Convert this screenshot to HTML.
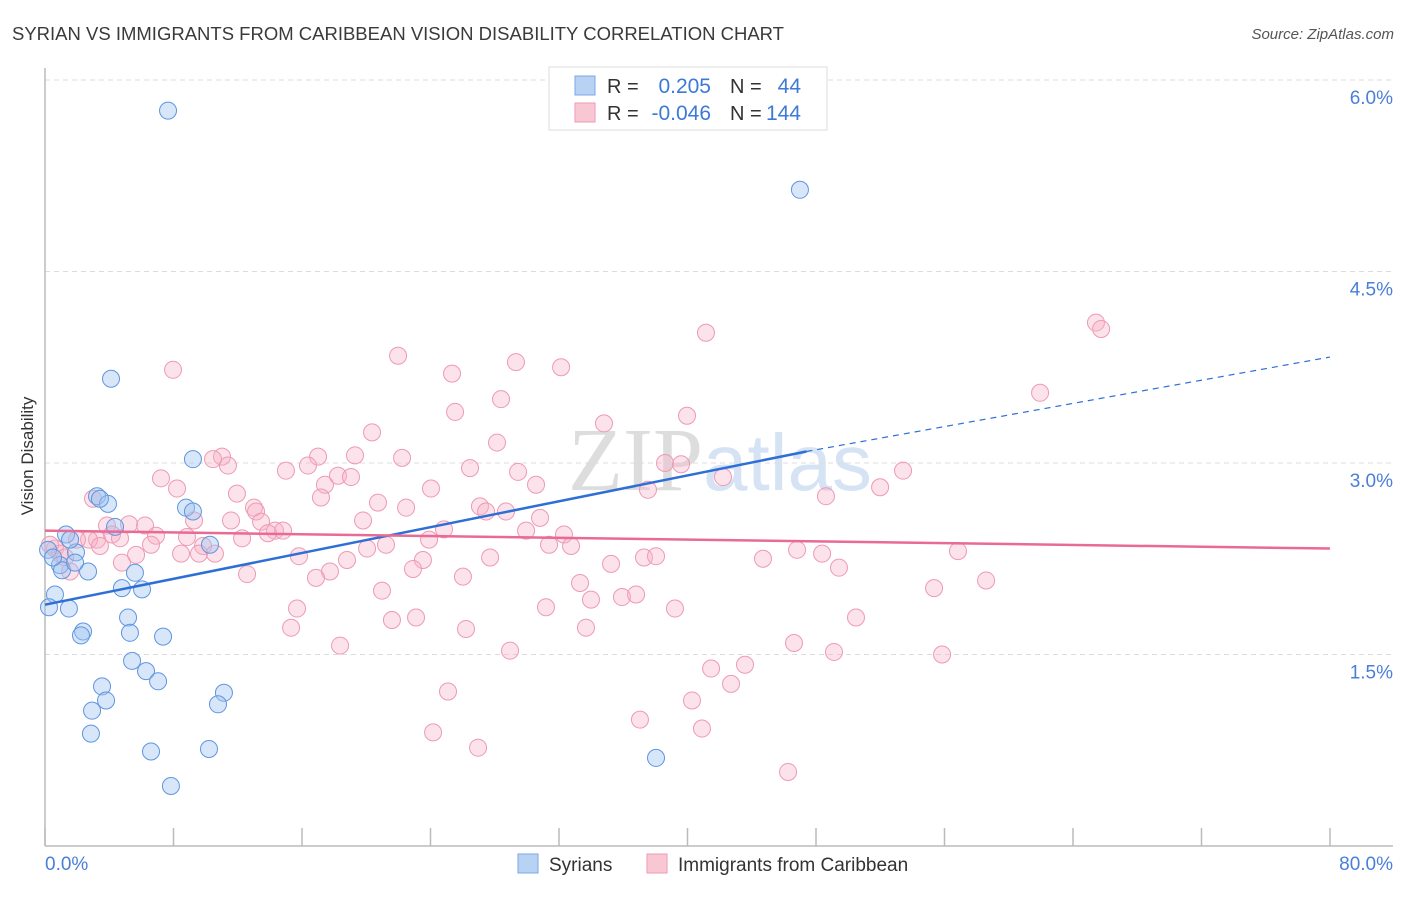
<!DOCTYPE html>
<html><head><meta charset="utf-8"><style>
body{margin:0;background:#fff;font-family:"Liberation Sans",sans-serif;}
svg text{font-family:"Liberation Sans",sans-serif;}
</style></head><body>
<svg id="chart" width="1406" height="892" xmlns="http://www.w3.org/2000/svg">
<text x="12" y="40" font-size="18.5" fill="#3a3a3a">SYRIAN VS IMMIGRANTS FROM CARIBBEAN VISION DISABILITY CORRELATION CHART</text>
<text x="1394" y="39" font-size="15" fill="#555" font-style="italic" text-anchor="end">Source: ZipAtlas.com</text>
<text transform="translate(33,456) rotate(-90)" font-size="17" fill="#333" text-anchor="middle">Vision Disability</text>
<text x="720" y="490" font-size="90" fill="#d6e0ec" text-anchor="middle" opacity="0.6"><tspan font-family="Liberation Serif" fill="#c8c8c8">ZIP</tspan><tspan font-size="80" fill="#bcd2ee">atlas</tspan></text>
<g id="grid"></g>
<g id="axes"></g>
<g id="pinkpts"></g>
<g id="bluepts"></g>
<g id="lines"></g>
<g>
<rect x="549" y="67" width="278" height="63" fill="#fff" stroke="#ddd"/>
<rect x="575" y="76" width="20" height="19" fill="#b8d2f4" stroke="#7aa8e6"/>
<rect x="575" y="103" width="20" height="19" fill="#f9c6d4" stroke="#ee9ab3"/>
<text x="607" y="93" font-size="20" fill="#333">R =</text>
<text x="711" y="93" font-size="21" fill="#3d7ad6" text-anchor="end">0.205</text>
<text x="730" y="93" font-size="20" fill="#333">N =</text>
<text x="801" y="93" font-size="21" fill="#3d7ad6" text-anchor="end">44</text>
<text x="607" y="120" font-size="20" fill="#333">R =</text>
<text x="711" y="120" font-size="21" fill="#3d7ad6" text-anchor="end">-0.046</text>
<text x="730" y="120" font-size="20" fill="#333">N =</text>
<text x="801" y="120" font-size="21" fill="#3d7ad6" text-anchor="end">144</text>
</g>
<g>
<rect x="518" y="854" width="20" height="19" fill="#b8d2f4" stroke="#7aa8e6"/>
<text x="549" y="871" font-size="19" fill="#333">Syrians</text>
<rect x="647" y="854" width="20" height="19" fill="#f9c6d4" stroke="#ee9ab3"/>
<text x="678" y="871" font-size="19" fill="#333">Immigrants from Caribbean</text>
</g>
</svg>
<script>
const yTicks=[1.5,3.0,4.5,6.0];
const yTickLabels=["1.5%","3.0%","4.5%","6.0%"];
const xTicks=[0,8,16,24,32,40,48,56,64,72,80];
const xEndLabels=["0.0%","80.0%"];
const blueX=[7.66,47.0,4.11,9.21,3.24,3.92,8.78,9.21,4.36,1.31,10.27,1.93,0.19,0.93,2.68,5.60,4.79,6.04,0.62,0.25,1.49,5.17,2.37,2.24,5.29,7.35,5.42,6.29,7.04,3.55,11.14,3.80,10.77,2.93,2.86,6.60,10.21,38.04,7.84,1.06,3.42,1.56,0.50,1.87];
const blueY=[5.76,5.14,3.66,3.03,2.74,2.68,2.65,2.62,2.50,2.44,2.36,2.30,2.32,2.20,2.15,2.14,2.02,2.01,1.97,1.87,1.86,1.79,1.68,1.65,1.67,1.64,1.45,1.37,1.29,1.25,1.20,1.14,1.11,1.06,0.88,0.74,0.76,0.69,0.47,2.16,2.72,2.40,2.26,2.22];
const pinkX=[65.43,65.75,41.15,21.98,29.32,32.13,7.97,25.34,61.95,28.39,25.53,34.80,39.97,20.36,28.14,11.02,10.46,17.00,19.30,22.23,11.39,16.37,26.46,38.60,39.60,29.45,15.00,42.21,7.22,51.99,53.42,8.22,17.43,18.24,19.05,24.03,30.57,37.54,11.95,17.18,48.62,20.73,22.48,2.99,27.08,13.01,13.14,19.80,27.46,28.70,30.82,11.58,13.45,9.28,3.86,5.23,6.23,14.32,14.82,13.88,24.84,4.17,6.91,8.84,3.24,2.74,1.99,3.42,4.67,12.27,23.91,32.31,9.84,6.60,32.75,31.38,9.59,20.05,21.23,29.95,10.58,8.47,5.67,15.81,18.80,23.53,27.71,37.29,38.04,46.82,48.38,56.84,35.24,44.70,4.79,49.43,1.56,17.74,12.58,22.91,26.02,33.31,16.87,58.59,55.35,20.98,33.99,35.92,36.80,31.19,15.69,39.22,21.60,23.10,50.49,15.32,26.21,33.68,18.37,46.63,28.95,49.12,55.85,41.47,43.58,42.71,25.09,40.28,37.04,40.90,24.16,26.96,46.26,0.62,0.93,0.31,1.25];
const pinkY=[4.10,4.05,4.02,3.84,3.79,3.75,3.73,3.70,3.55,3.50,3.40,3.31,3.37,3.24,3.16,3.05,3.03,3.05,3.06,3.04,2.98,2.98,2.96,3.00,2.99,2.93,2.94,2.89,2.88,2.81,2.94,2.80,2.83,2.90,2.89,2.80,2.83,2.79,2.76,2.73,2.74,2.69,2.65,2.72,2.66,2.65,2.62,2.55,2.62,2.62,2.57,2.55,2.54,2.55,2.51,2.52,2.51,2.47,2.47,2.45,2.48,2.44,2.43,2.42,2.40,2.40,2.40,2.35,2.41,2.41,2.40,2.44,2.35,2.36,2.35,2.36,2.29,2.33,2.36,2.47,2.29,2.29,2.28,2.27,2.24,2.24,2.26,2.26,2.27,2.32,2.29,2.31,2.21,2.25,2.22,2.18,2.15,2.15,2.13,2.17,2.11,2.06,2.10,2.08,2.02,2.00,1.93,1.95,1.97,1.87,1.86,1.86,1.77,1.79,1.79,1.71,1.70,1.71,1.57,1.59,1.53,1.52,1.50,1.39,1.42,1.27,1.21,1.14,0.99,0.92,0.89,0.77,0.58,2.33,2.29,2.36,2.26];
const blueTrendX=[0,47.4,80];
const blueTrendY=[1.89,3.09,3.83];
const pinkTrendX=[0,80];
const pinkTrendY=[2.47,2.33];

const NS="http://www.w3.org/2000/svg";
const X0=45,X1=1330,YB=846,PX=(846-80)/6;
function sx(v){return X0+(X1-X0)*v/80;}
function sy(v){return YB-v*PX;}
function mk(tag,attrs,parent){const e=document.createElementNS(NS,tag);for(const k in attrs)e.setAttribute(k,attrs[k]);parent.appendChild(e);return e;}
const grid=document.getElementById('grid'),axes=document.getElementById('axes');
yTicks.forEach((t,i)=>{
  const l=mk('line',{x1:X0,x2:1393,y1:sy(t),y2:sy(t),stroke:'#dcdcdc','stroke-dasharray':'5,4'},grid);
  
  
  const tx=mk('text',{x:1393,y:sy(t)+24,'font-size':19,fill:'#4a7fd8','text-anchor':'end'},axes);
  tx.textContent=yTickLabels[i];
  
  
});
const yax=mk('line',{x1:X0,x2:X0,y1:68,y2:YB,stroke:'#bbb','stroke-width':1.5},axes);


const xax=mk('line',{x1:X0,x2:1393,y1:YB,y2:YB,stroke:'#bbb','stroke-width':1.5},axes);


xTicks.forEach(v=>{
  const t=mk('line',{x1:sx(v),x2:sx(v),y1:828,y2:YB,stroke:'#bbb','stroke-width':1.5},axes);
  
  
});
[[0,'start',45],[80,'end',1393]].forEach((d,i)=>{
  const tx=mk('text',{x:d[2],y:870,'font-size':19,fill:'#4a7fd8','text-anchor':d[1]},axes);
  tx.textContent=xEndLabels[i];
  
  
});
const pg=document.getElementById('pinkpts');
pinkX.forEach((x,i)=>{
  const c=mk('circle',{cx:sx(x),cy:sy(pinkY[i]),r:8.5,fill:'rgba(248,180,200,0.38)',stroke:'#ee9ab4','stroke-width':1},pg);
  
  
});
const bg=document.getElementById('bluepts');
blueX.forEach((x,i)=>{
  const c=mk('circle',{cx:sx(x),cy:sy(blueY[i]),r:8.5,fill:'rgba(160,195,240,0.42)',stroke:'#5f96e0','stroke-width':1},bg);
  
  
});
const lg=document.getElementById('lines');
const b1=mk('line',{x1:sx(blueTrendX[0]),y1:sy(blueTrendY[0]),x2:sx(blueTrendX[1]),y2:sy(blueTrendY[1]),stroke:'#2e6fd6','stroke-width':2.5},lg);


const b2=mk('line',{x1:sx(blueTrendX[1]),y1:sy(blueTrendY[1]),x2:sx(blueTrendX[2]),y2:sy(blueTrendY[2]),stroke:'#2e6fd6','stroke-width':1.2,'stroke-dasharray':'6,5'},lg);


const p1=mk('line',{x1:sx(pinkTrendX[0]),y1:sy(pinkTrendY[0]),x2:sx(pinkTrendX[1]),y2:sy(pinkTrendY[1]),stroke:'#e96a95','stroke-width':2.5},lg);


</script>
</body></html>
